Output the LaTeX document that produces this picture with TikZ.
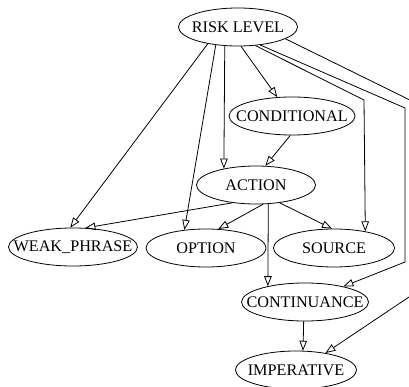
\documentclass[tikz,border=0pt]{standalone}
\usepackage{fontspec}
\setmainfont{Liberation Serif}
\usetikzlibrary{shapes.geometric, arrows.meta}

\tikzset{
  lbl/.style={ellipse, draw, line width=0.8pt, inner xsep=-20pt, inner ysep=0pt,
    minimum height=38pt, minimum width=119pt, font=\fontsize{16.2}{18}\selectfont},
}

\begin{document}
\begin{tikzpicture}[x=1pt,y=-1pt,>={Triangle[open,length=10pt,width=7.5pt]},line width=0.8pt]
    \clip (0,0) rectangle (409,387);

    \node[lbl] (risk) at (238,27) {RISK LEVEL};
    \node[lbl, minimum width=126pt] (cond) at (292,116) {CONDITIONAL};
    \node[lbl] (action) at (256,185) {ACTION};
    \node[lbl, minimum width=129pt] (weak) at (73,247) {WEAK\_PHRASE};
    \node[lbl, minimum width=120pt] (option) at (206,248) {OPTION};
    \node[lbl, minimum width=121pt] (source) at (334,248) {SOURCE};
    \node[lbl, minimum width=127pt] (cont) at (305,302) {CONTINUANCE};
    \node[lbl, minimum width=121pt] (imper) at (296,370) {IMPERATIVE};

    % bends of the long edges
    \coordinate (bendS) at (364,100);
    \coordinate (bendC1) at (405,108);
    \coordinate (bendC2) at (405,262);
    \coordinate (bendI1) at (418,104);
    \coordinate (bendI2) at (418,291);

    \path[->]
    (risk.209) edge (weak.98)
    (risk.219) edge (option.140)
    (risk.235) edge (action.153)
    (risk.279) edge (cond.128)
    (cond.265) edge (action.64)
    (action.217) edge (weak.57)
    (action.290) edge (option.57)
    (action.323) edge (source.96)
    (action.303) edge (cont.157)
    (cont.266) edge (imper.70)
    ;
    \draw[->] (risk.313) -- (bendS) -- (source.28);
    \draw[->] (risk.321) -- (bendC1) -- (bendC2) -- (cont.22);
    \draw[->] (risk.346) -- (bendI1) -- (bendI2) -- (imper.30);
  \end{tikzpicture}
\end{document}
